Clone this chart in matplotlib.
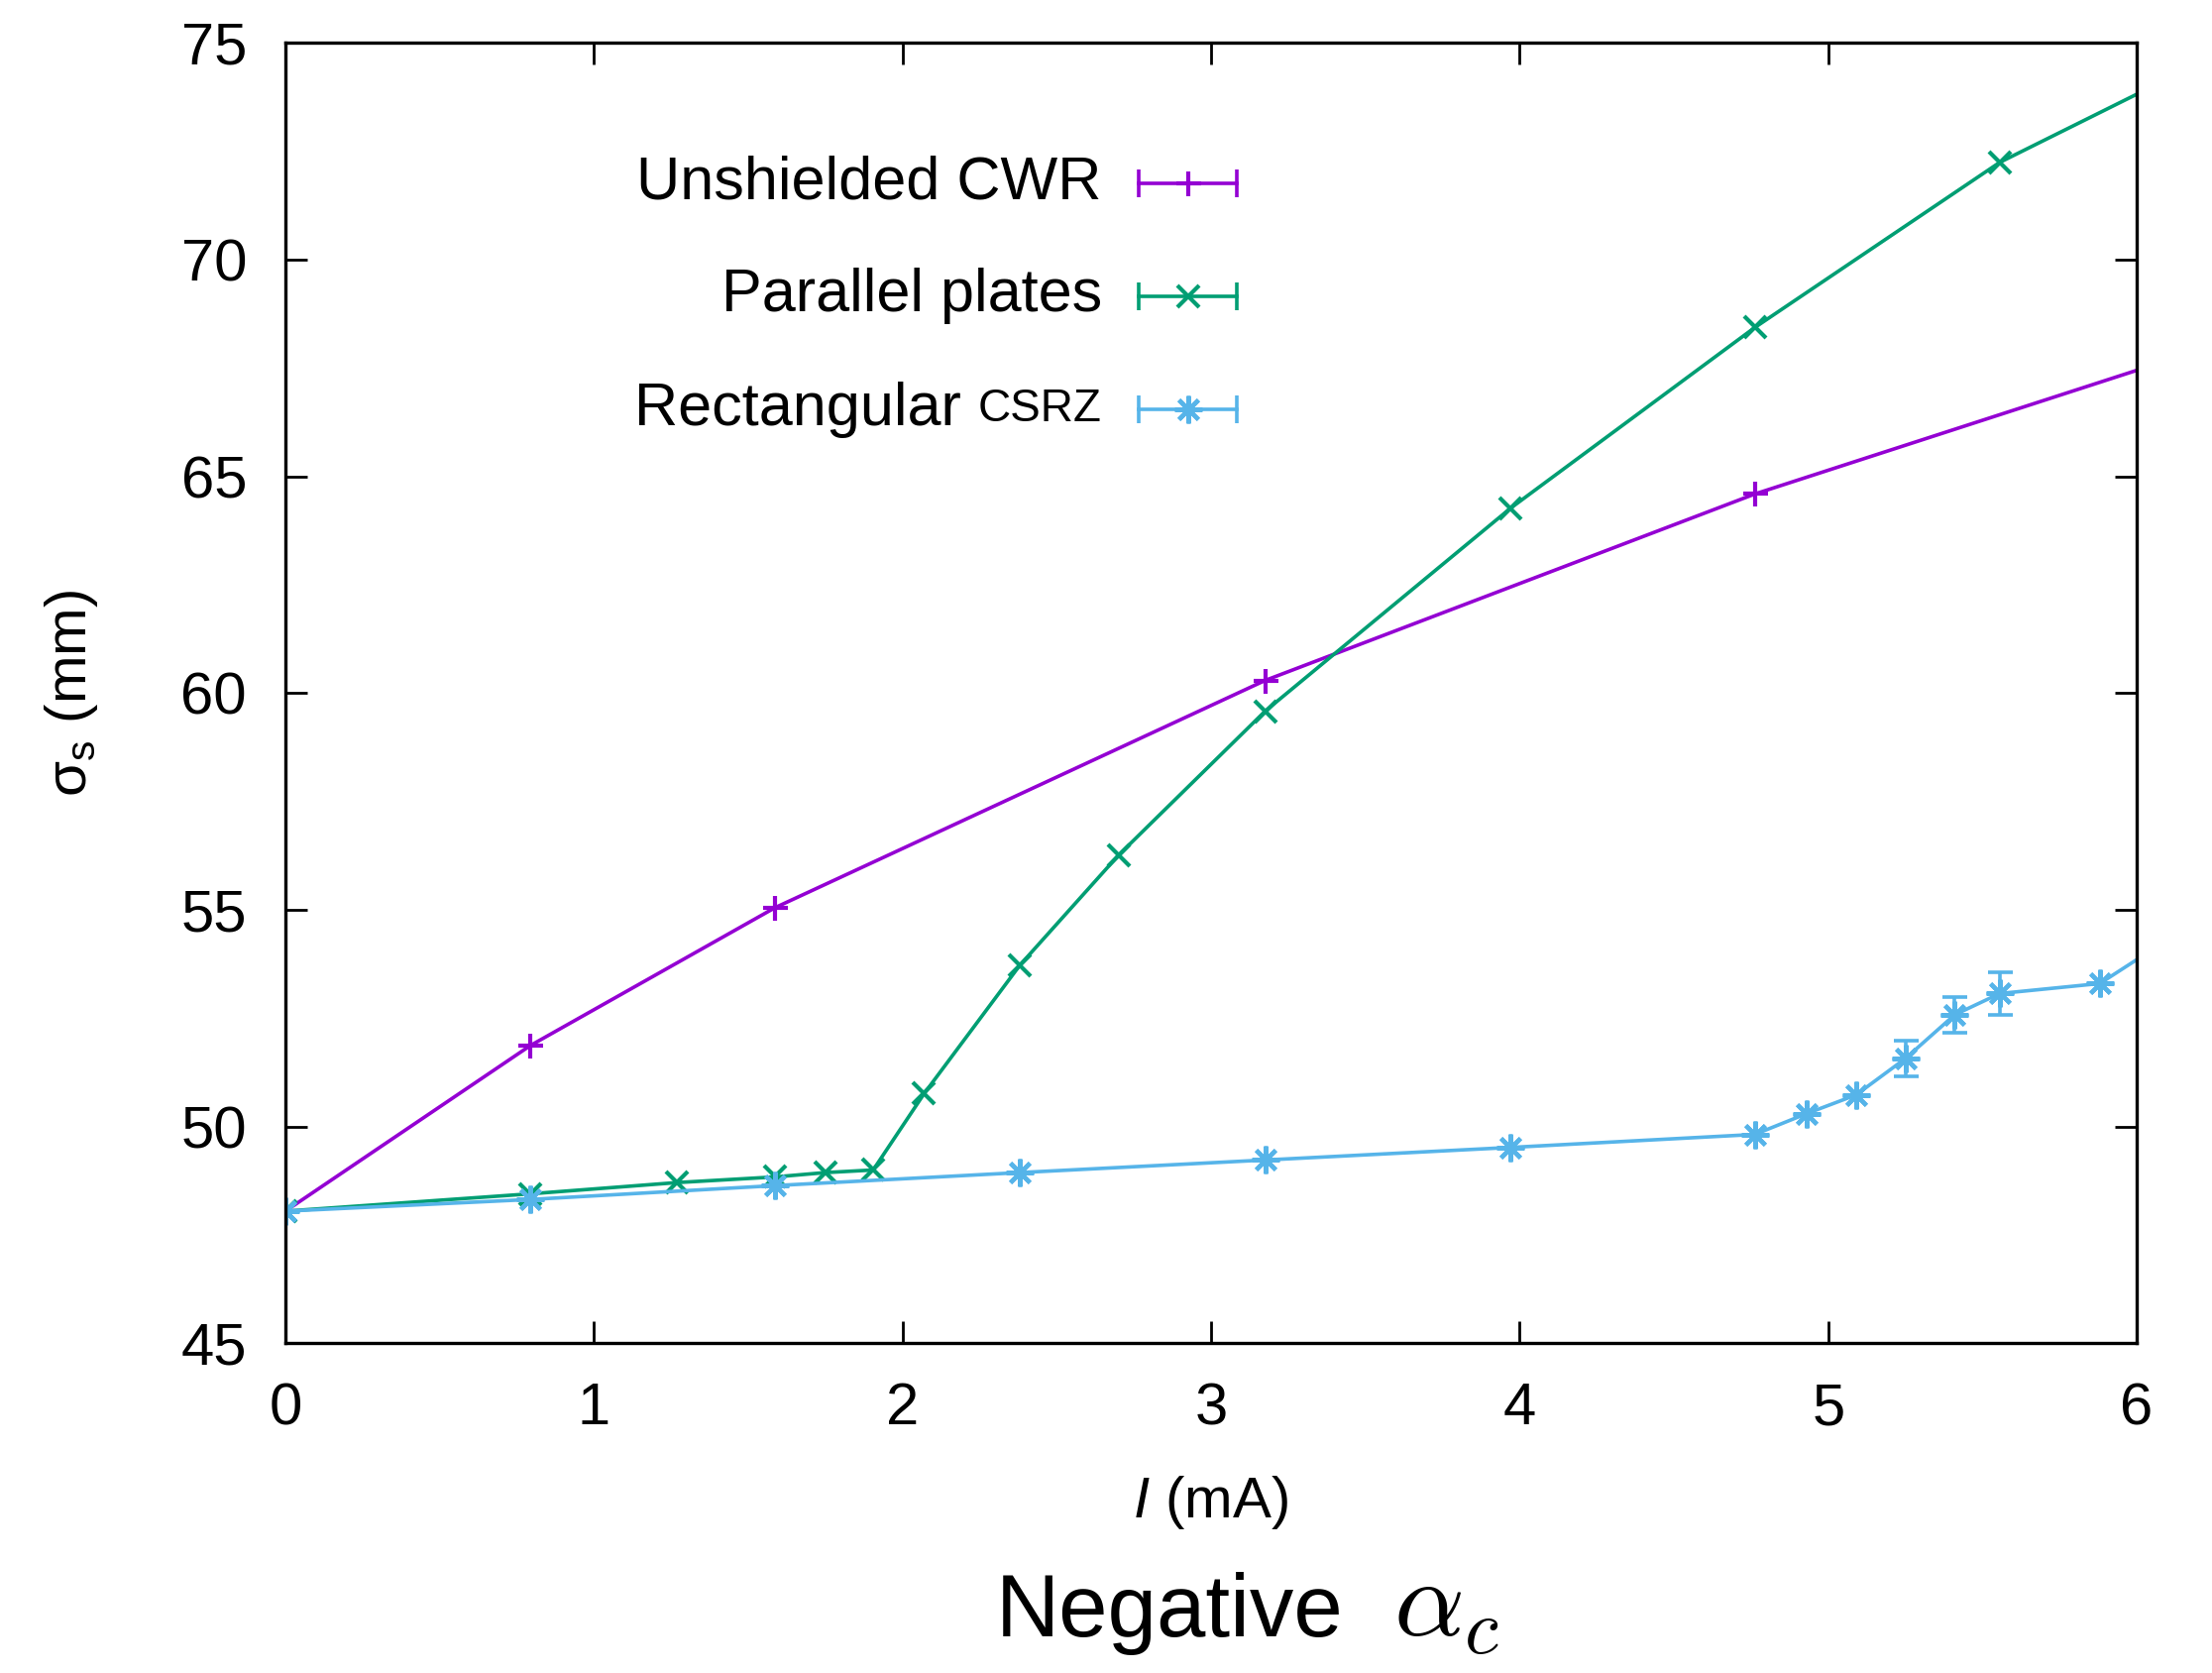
import numpy as np
import matplotlib.pyplot as plt

plt.rcParams['font.family'] = ['Liberation Sans', 'DejaVu Sans']
plt.rcParams['mathtext.fontset'] = 'custom'
plt.rcParams['mathtext.rm'] = 'Liberation Sans'
plt.rcParams['mathtext.it'] = 'Liberation Sans:italic'

# data (last point of each lies past x=6 and is clipped)
cwr_I = [0, 0.794, 1.587, 3.175, 4.762, 6.35]
cwr_sig = [48.05, 51.87, 55.05, 60.29, 64.59, 68.25]

pp_I = [0, 0.794, 1.27, 1.587, 1.75, 1.905, 2.07, 2.38, 2.70, 3.175, 3.97, 4.762, 5.556, 6.35]
pp_sig = [48.05, 48.45, 48.71, 48.84, 48.94, 49.0, 50.76, 53.72, 56.26, 59.58, 64.26, 68.43, 72.24, 75.05]

rc_I = [0, 0.794, 1.587, 2.38, 3.175, 3.97, 4.762, 4.93, 5.09, 5.25, 5.41, 5.556, 5.88, 6.2]
rc_sig = [48.05, 48.32, 48.64, 48.94, 49.23, 49.52, 49.82, 50.30, 50.73, 51.57, 52.58, 53.07, 53.30, 54.77]
rc_err = [0, 0, 0, 0, 0, 0, 0, 0, 0, 0.41, 0.41, 0.49, 0, 0]

labels = ["Unshielded CWR", "Parallel plates", "Rectangular "]
colors = ["#9400D3", "#009E73", "#56B4E9"]
markers = ['+', 'x', (8, 2, 0)]
msizes = [9, 8, 10]
LW = 1.3
MEW = 1.5

fig = plt.figure(figsize=(11.16, 8.44), dpi=200)
ax = fig.add_axes([0.129, 0.197, 0.837, 0.7775])

series = [(cwr_I, cwr_sig), (pp_I, pp_sig), (rc_I, rc_sig)]
for (xs, ys), c, m, ms in zip(series, colors, markers, msizes):
    ax.plot(xs, ys, color=c, lw=LW, marker=m, ms=ms, mew=MEW)

# error bars (only the visible ones)
rc_I_a = np.array(rc_I)
rc_sig_a = np.array(rc_sig)
rc_err_a = np.array(rc_err)
m = rc_err_a > 0
ax.errorbar(rc_I_a[m], rc_sig_a[m], yerr=rc_err_a[m], fmt='none',
            ecolor=colors[2], elinewidth=LW, capsize=4.5, capthick=LW)

ax.set_xlim(0, 6)
ax.set_ylim(45, 75)
ax.set_xticks(range(0, 7))
ax.set_yticks(range(45, 80, 5))
ax.tick_params(direction='in', top=True, right=True, length=8, width=1,
               labelsize=21.5)
ax.tick_params(axis='x', pad=14)
ax.tick_params(axis='y', pad=14)
for s in ax.spines.values():
    s.set_linewidth(1.2)

ax.set_xlabel(r"$\mathit{I}$ (mA)", fontsize=21)
ax.set_ylabel(r"σ$_\mathregular{s}$ (mm)", fontsize=21)
ax.xaxis.set_label_coords(0.5, -0.10)
ax.yaxis.set_label_coords(-0.10, 0.5)

# legend drawn by hand, gnuplot style
rows = [0.892, 0.805, 0.718]
x0, x1, xm, xt = 0.461, 0.514, 0.4875, 0.441
for i, (lab, c, mk, ms) in enumerate(zip(labels, colors, markers, msizes)):
    y = rows[i]
    ax.plot([x0, x1], [y, y], color=c, lw=LW, transform=ax.transAxes)
    ax.plot([x0, x1], [y, y], color=c, ls='none', marker='|', ms=10, mew=LW,
            transform=ax.transAxes)
    ax.plot([xm], [y], color=c, ls='none', marker=mk, ms=ms, mew=MEW,
            transform=ax.transAxes)
    if i < 2:
        ax.text(xt, y, lab, ha='right', va='center', fontsize=22,
                transform=ax.transAxes)
    else:
        t = ax.text(xt, y, "CSRZ", ha='right', va='center', fontsize=16.5,
                    transform=ax.transAxes)
        ax.annotate(lab, xy=(0, 0.5), xycoords=t, ha='right', va='center',
                    fontsize=22)

fig.text(0.450, 0.022, "Negative", ha='left', va='baseline', fontsize=32)
fig.text(0.630, 0.022, r"$\alpha_c$", ha='left', va='baseline',
         fontsize=40, math_fontfamily='cm')

plt.savefig('out.png', dpi=200)
